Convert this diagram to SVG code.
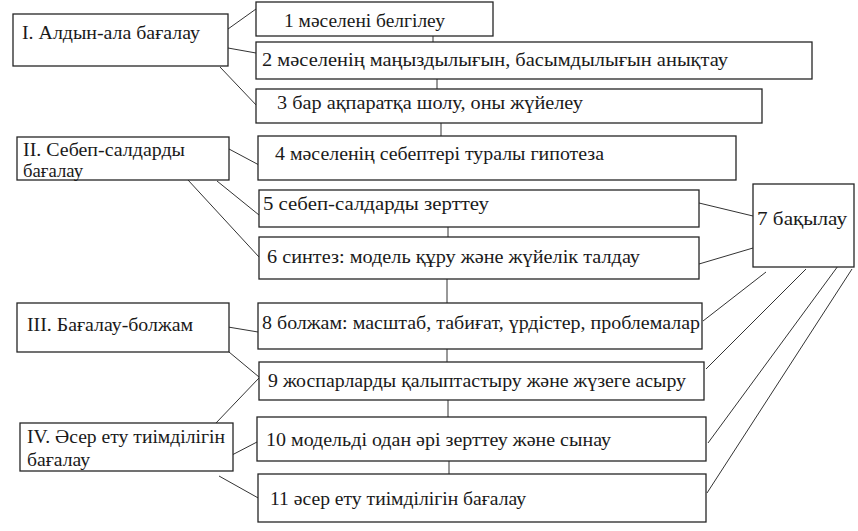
<svg xmlns="http://www.w3.org/2000/svg" width="858" height="531" viewBox="0 0 858 531">
<style>
rect{fill:#fff;stroke:#262626;stroke-width:1.3}
text{font-family:'Liberation Serif','Times New Roman','DejaVu Serif',serif;font-size:18px;fill:#1a1a1a}
#connectors line{stroke:#333;stroke-width:1}
</style>
<rect x="0" y="0" width="858" height="531" style="stroke:none"/>
<g id="connectors">
<line x1="228" y1="29" x2="256" y2="9"/>
<line x1="228" y1="48" x2="256" y2="53"/>
<line x1="220" y1="67" x2="258" y2="107"/>
<line x1="433" y1="36" x2="433" y2="42"/>
<line x1="437" y1="79" x2="437" y2="89"/>
<line x1="441" y1="123" x2="441" y2="136"/>
<line x1="229" y1="149" x2="259" y2="165"/>
<line x1="217" y1="181" x2="259" y2="215"/>
<line x1="188" y1="180" x2="259" y2="257"/>
<line x1="448" y1="227" x2="448" y2="237"/>
<line x1="699" y1="203" x2="753" y2="216"/>
<line x1="699" y1="264" x2="753" y2="248"/>
<line x1="447" y1="279" x2="447" y2="303"/>
<line x1="447" y1="349" x2="447" y2="362"/>
<line x1="448" y1="400" x2="448" y2="417"/>
<line x1="449" y1="461" x2="449" y2="474"/>
<line x1="766" y1="272" x2="703" y2="321"/>
<line x1="806" y1="269" x2="706" y2="369"/>
<line x1="838" y1="266" x2="708" y2="443"/>
<line x1="852" y1="269" x2="707" y2="493"/>
<line x1="228" y1="327" x2="258" y2="332"/>
<line x1="229" y1="352" x2="259" y2="377"/>
<line x1="216" y1="423" x2="259" y2="378"/>
<line x1="232" y1="455" x2="257" y2="442"/>
<line x1="219" y1="476" x2="260" y2="499"/>
</g>
<g id="nodeI"><rect x="13" y="14" width="215" height="52"/><text x="22" y="39" textLength="178" lengthAdjust="spacingAndGlyphs">I. Алдын-ала бағалау</text></g>
<g id="node1"><rect x="256" y="2" width="237" height="34"/><text x="284" y="27" textLength="161" lengthAdjust="spacingAndGlyphs">1 мәселені белгілеу</text></g>
<g id="node2"><rect x="256" y="42" width="556" height="37"/><text x="262" y="66" textLength="466" lengthAdjust="spacingAndGlyphs">2 мәселенің маңыздылығын, басымдылығын анықтау</text></g>
<g id="node3"><rect x="256" y="89" width="506" height="34"/><text x="277" y="109" textLength="306" lengthAdjust="spacingAndGlyphs">3 бар ақпаратқа шолу, оны жүйелеу</text></g>
<g id="nodeII"><rect x="17" y="137" width="212" height="43"/><text x="23" y="156" textLength="162" lengthAdjust="spacingAndGlyphs">II. Себеп-салдарды</text><text x="23" y="177" textLength="60" lengthAdjust="spacingAndGlyphs">бағалау</text></g>
<g id="node4"><rect x="258" y="136" width="478" height="44"/><text x="275" y="160" textLength="329" lengthAdjust="spacingAndGlyphs">4 мәселенің себептері туралы гипотеза</text></g>
<g id="node5"><rect x="259" y="190" width="440" height="37"/><text x="263" y="210" textLength="226" lengthAdjust="spacingAndGlyphs">5 себеп-салдарды зерттеу</text></g>
<g id="node6"><rect x="259" y="237" width="440" height="42"/><text x="267" y="263" textLength="373" lengthAdjust="spacingAndGlyphs">6 синтез: модель құру және жүйелік талдау</text></g>
<g id="node7"><rect x="753" y="184" width="101" height="83"/><text x="757" y="225" textLength="90" lengthAdjust="spacingAndGlyphs">7 бақылау</text></g>
<g id="nodeIII"><rect x="17" y="303" width="212" height="49"/><text x="27" y="331" textLength="166" lengthAdjust="spacingAndGlyphs">III. Бағалау-болжам</text></g>
<g id="node8"><rect x="258" y="303" width="444" height="46"/><text x="262" y="329" textLength="438" lengthAdjust="spacingAndGlyphs">8 болжам: масштаб, табиғат, үрдістер, проблемалар</text></g>
<g id="node9"><rect x="259" y="362" width="445" height="38"/><text x="268" y="387" textLength="418" lengthAdjust="spacingAndGlyphs">9 жоспарларды қалыптастыру және жүзеге асыру</text></g>
<g id="nodeIV"><rect x="20" y="423" width="213" height="48"/><text x="27" y="443" textLength="198" lengthAdjust="spacingAndGlyphs">IV. Әсер ету тиімділігін</text><text x="27" y="466" textLength="63" lengthAdjust="spacingAndGlyphs">бағалау</text></g>
<g id="node10"><rect x="257" y="417" width="449" height="44"/><text x="266" y="446" textLength="345" lengthAdjust="spacingAndGlyphs">10 модельді одан әрі зерттеу және сынау</text></g>
<g id="node11"><rect x="258" y="474" width="448" height="48"/><text x="270" y="505" textLength="256" lengthAdjust="spacingAndGlyphs">11 әсер ету тиімділігін бағалау</text></g>
</svg>
